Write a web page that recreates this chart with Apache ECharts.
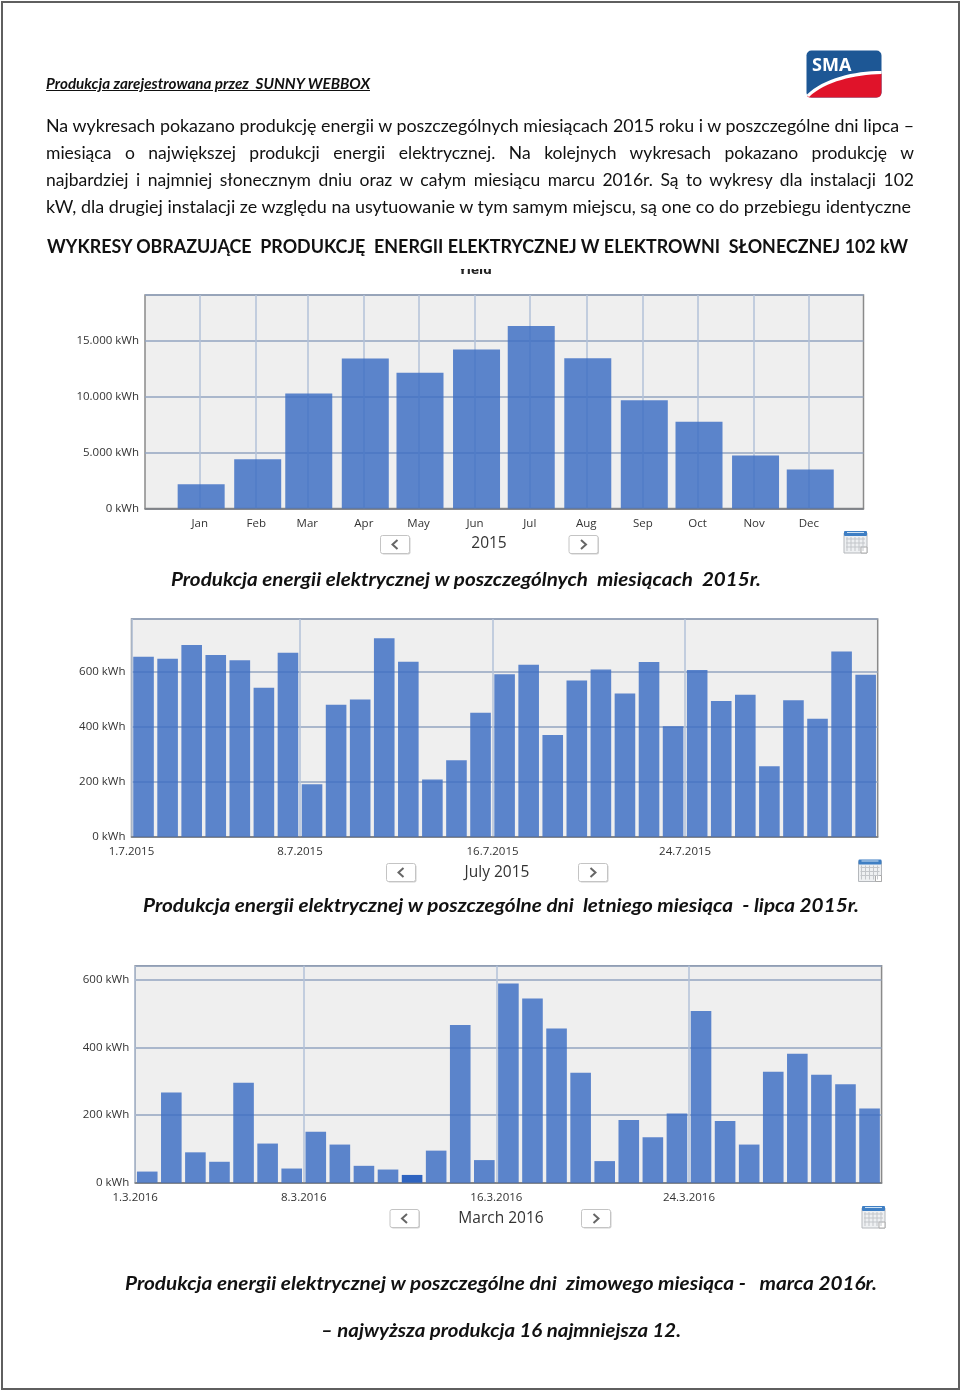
<!DOCTYPE html>
<html lang="pl"><head><meta charset="utf-8">
<style>
html,body{margin:0;padding:0;background:#fff;width:960px;height:1393px;overflow:hidden}
#frame{position:absolute;left:1px;top:1px;width:955px;height:1385px;border:2px solid #5f5f5f}
#chart{position:absolute;left:0;top:0;width:960px;height:1393px}
.t{position:absolute;white-space:pre;line-height:24px;height:24px;transform-origin:left center;color:#111}
#yield{position:absolute;left:440px;top:269px;width:70px;height:9px;overflow:hidden}
#yield span{position:absolute;left:0;right:0;top:-6px;text-align:center;font:bold 12px "DejaVu Sans";color:#222}
svg{position:absolute}
</style>
<script src="https://cdn.jsdelivr.net/npm/echarts@6/dist/echarts.min.js"></script>
</head><body>
<div id="frame"></div>
<div id="chart"></div>
<div id="yield"><span>Yield</span></div>
<svg style="left:806px;top:50px" width="76" height="48" viewBox="0 0 76 48">
<rect x="0.5" y="0.5" width="75" height="47" rx="5" fill="#1d5795"/>
<path d="M1 46 C18 30 48 23 75.5 23 L75.5 42 Q75.5 47.5 70 47.5 L3 47.5 Z" fill="#e0132a"/>
<path d="M0.5 45 C18 28 48 21 75.5 21 L75.5 24 C48 25 20 31 3 47 Z" fill="#fff"/>
<text x="6" y="21" font-family="Open Sans" font-weight="700" font-size="18" fill="#fff">SMA</text>
</svg>
<script>
// ---------- Data ----------
var monthLabels = ['Jan','Feb','Mar','Apr','May','Jun','Jul','Aug','Sep','Oct','Nov','Dec'];
var monthStartDay = [0,31,59,90,120,151,181,212,243,273,304,334];
var yield2015 = [2180,4420,10310,13450,12160,14250,16370,13480,9710,7770,4750,3500];
var july2015 = [654,647,697,661,642,542,669,191,480,499,722,636,208,278,451,591,625,370,568,608,521,635,402,606,493,516,256,496,429,673,589];
var march2016 = [33,267,90,62,296,116,42,151,113,50,39,23,95,467,67,590,546,457,326,64,186,135,205,509,183,113,329,382,320,292,220];
var tickDays = [0,7,15,23];
var julyTickLabels = ['1.7.2015','8.7.2015','16.7.2015','24.7.2015'];
var marchTickLabels = ['1.3.2016','8.3.2016','16.3.2016','24.3.2016'];
var periodLabels = ['2015','July 2015','March 2016'];
var lowestMarchDay = 12;

// ---------- Document text ----------
var BODY = '"Lato"';
var texts = [
 {t:'Produkcja zarejestrowana przez  SUNNY WEBBOX',x:46,y:84,w:324,s:14.5,st:'italic',b:700,u:1},
 {t:'Na wykresach pokazano produkcję energii w poszczególnych miesiącach 2015 roku i w poszczególne dni lipca –',x:46,y:125.5,w:868,s:17.5},
 {t:'miesiąca o największej produkcji energii elektrycznej. Na kolejnych wykresach pokazano produkcję w',x:46,y:152.5,w:868,s:17.5,j:1},
 {t:'najbardziej i najmniej słonecznym dniu oraz w całym miesiącu marcu 2016r. Są to wykresy dla instalacji 102',x:46,y:179.5,w:868,s:17.5,j:1},
 {t:'kW, dla drugiej instalacji ze względu na usytuowanie w tym samym miejscu, są one co do przebiegu identyczne',x:46,y:206.5,w:865,s:17.5},
 {t:'WYKRESY OBRAZUJĄCE  PRODUKCJĘ  ENERGII ELEKTRYCZNEJ W ELEKTROWNI  SŁONECZNEJ 102 kW',x:47,y:246,w:861,s:19.5,b:700},
 {t:'Produkcja energii elektrycznej w poszczególnych  miesiącach  2015r.',x:171,y:579,w:590,s:19.5,st:'italic',b:700},
 {t:'Produkcja energii elektrycznej w poszczególne dni  letniego miesiąca  - lipca 2015r.',x:143,y:905,w:716,s:19.5,st:'italic',b:700},
 {t:'Produkcja energii elektrycznej w poszczególne dni  zimowego miesiąca -   marca 2016r.',x:125,y:1283,w:752,s:19.5,st:'italic',b:700},
 {t:'– najwyższa produkcja 16 najmniejsza 12.',x:321,y:1330,w:360,s:19.5,st:'italic',b:700}
];
texts.forEach(function(o){
  var d=document.createElement('div');d.className='t';d.textContent=o.t;
  d.style.cssText='left:'+o.x+'px;top:'+(o.y-12)+'px;font-family:'+BODY+';font-size:'+o.s+'px;font-weight:'+(o.b||400)+';font-style:'+(o.st||'normal')+(o.u?';text-decoration:underline':'');
  document.body.appendChild(d);
  var n=d.getBoundingClientRect().width;
  var spaces=o.t.split(' ').length-1;
  if(o.j&&n<o.w){d.style.wordSpacing=((o.w-n)/spaces)+'px';}
  else{d.style.transform='scaleX('+(o.w/n)+')';}
});

// ---------- Chart ----------
var LABEL='"Open Sans"', BAR='rgba(58,108,195,0.82)', HI='rgba(40,95,190,0.97)';
var grids=[
 {left:145,top:295,width:718.5,height:213.5},
 {left:131.5,top:619,width:746.2,height:217.7},
 {left:135.2,top:965.7,width:746.4,height:217}
];
var xCfg=[
 {min:-30,max:364,ticks:monthStartDay,labels:monthLabels},
 {min:0,max:31,ticks:tickDays,labels:julyTickLabels},
 {min:0,max:31,ticks:tickDays,labels:marchTickLabels}
];
var yCfg=[{max:19140,interval:5000},{max:791.6,interval:200},{max:643,interval:200}];
function fmtY(v){return String(v).replace(/\B(?=(\d{3})+$)/g,'.')+' kWh';}
var xAxis=xCfg.map(function(c,i){return{
  type:'value',gridIndex:i,min:c.min,max:c.max,
  axisLine:{show:true,onZero:false,lineStyle:{color:'#7b7b7b',width:1.5}},
  axisTick:{show:false,customValues:c.ticks},
  splitLine:{show:true,lineStyle:{color:'#b3c2d8',width:1.5}},
  axisLabel:{show:true,customValues:c.ticks,margin:9,hideOverlap:false,showMinLabel:true,showMaxLabel:true,
    color:'#333',fontFamily:LABEL,fontSize:11.5,alignMinLabel:'center',alignMaxLabel:'center',
    formatter:function(v){var k=c.ticks.indexOf(Math.round(v));return k<0?'':c.labels[k];}}
};});
var yAxis=yCfg.map(function(c,i){return{
  type:'value',gridIndex:i,min:0,max:c.max,interval:c.interval,
  axisLine:{show:false},axisTick:{show:false},
  splitLine:{show:true,lineStyle:{color:'#93a5c0',width:1.5}},
  axisLabel:{margin:6,color:'#333',fontFamily:LABEL,fontSize:11.5,showMaxLabel:false,formatter:fmtY}
};});
function dailySeries(vals,idx,hi){
  return{type:'bar',xAxisIndex:idx,yAxisIndex:idx,barWidth:20.6,silent:true,
    data:vals.map(function(v,i){
      var it={value:[i+0.5,v]};
      if(hi===i+1)it.itemStyle={color:HI};
      return it;}),
    itemStyle:{color:BAR}};
}
var series=[
 {type:'bar',xAxisIndex:0,yAxisIndex:0,barWidth:47,silent:true,
  data:yield2015.map(function(v,i){return[monthStartDay[i]+0.8,v];}),itemStyle:{color:BAR}},
 dailySeries(july2015,1),
 dailySeries(march2016,2,lowestMarchDay)
];

// navigation controls (not data)
function navButton(x,y,dir){
  var w=29,h=18,cx=x+w/2,cy=y+h/2,s=dir*2.5;
  return[
   {type:'rect',shape:{x:x+1,y:y+1,width:w,height:h,r:2},style:{fill:'#d0d0d0'},silent:true},
   {type:'rect',shape:{x:x,y:y,width:w,height:h,r:2},style:{fill:'#fff',stroke:'#c4c4c4',lineWidth:1},silent:true},
   {type:'polyline',shape:{points:[[cx-s,cy-4.5],[cx+s,cy],[cx-s,cy+4.5]]},style:{fill:null,stroke:'#666',lineWidth:2},silent:true}
  ];
}
function calendar(x,y){
  var a=[
   {type:'rect',shape:{x:x,y:y+2,width:23,height:20},style:{fill:'#eef0f2',stroke:'#b5b8bc',lineWidth:1},silent:true},
   {type:'rect',shape:{x:x,y:y,width:23,height:5,r:1},style:{fill:'#3f7fc4'},silent:true},
   {type:'rect',shape:{x:x+3,y:y+1,width:17,height:1},style:{fill:'#cfe3f5'},silent:true},
   {type:'rect',shape:{x:x+17,y:y+16,width:6,height:6},style:{fill:'#fff',stroke:'#aaa',lineWidth:1},silent:true}
  ];
  for(var r=0;r<3;r++)a.push({type:'line',shape:{x1:x+2,y1:y+8+r*4,x2:x+21,y2:y+8+r*4},style:{stroke:'#c3c6ca',lineWidth:1},silent:true});
  for(var c=0;c<5;c++)a.push({type:'line',shape:{x1:x+3+c*4,y1:y+6,x2:x+3+c*4,y2:y+20},style:{stroke:'#c3c6ca',lineWidth:1},silent:true});
  return a;
}
function periodText(i,x,y){
  return{type:'text',silent:true,style:{text:periodLabels[i],x:x,y:y,align:'center',verticalAlign:'middle',
    fill:'#333',font:'15.5px "Open Sans"'}};
}
var graphic=[].concat(
  navButton(380.5,535.5,-1),navButton(569,535.5,1),calendar(844,531),[periodText(0,489,544)],
  navButton(386.5,863.5,-1),navButton(578.5,863.5,1),calendar(858.5,859.5),[periodText(1,497,873)],
  navButton(390,1209.5,-1),navButton(581.5,1209.5,1),calendar(862,1206),[periodText(2,501,1219)]
);
var chart=echarts.init(document.getElementById('chart'),null,{renderer:'canvas'});
chart.setOption({
  animation:false,backgroundColor:'transparent',
  grid:grids.map(function(g){return Object.assign({show:true,backgroundColor:'#efefef',borderColor:'#8a8a8a',borderWidth:1.5,containLabel:false},g);}),
  xAxis:xAxis,yAxis:yAxis,series:series,graphic:{elements:graphic},tooltip:{show:false}
});
</script>
</body></html>
